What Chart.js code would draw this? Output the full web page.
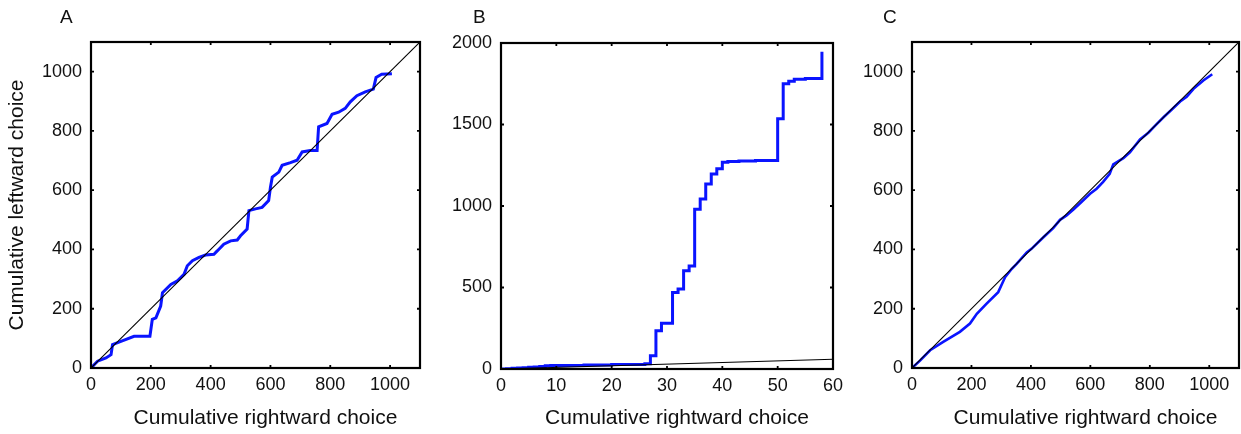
<!DOCTYPE html>
<html><head><meta charset="utf-8">
<script src="https://cdn.jsdelivr.net/npm/chart.js@4.4.1/dist/chart.umd.min.js"></script>
<style>
html,body{margin:0;padding:0;background:#fff;}
body{width:1241px;height:434px;position:relative;overflow:hidden;font-family:'Liberation Sans',Arial,Helvetica,sans-serif;}
.panel{position:absolute;top:0;height:434px;}
.lbl{position:absolute;top:7px;font-size:19px;line-height:19px;color:#111;}
</style></head><body>
<div class="panel" style="left:0;width:426px"><canvas id="cA"></canvas></div>
<div class="panel" style="left:425px;width:427px"><canvas id="cB"></canvas></div>
<div class="panel" style="left:840px;width:401px"><canvas id="cC"></canvas></div>
<div class="lbl" style="left:60px">A</div>
<div class="lbl" style="left:473px">B</div>
<div class="lbl" style="left:883px">C</div>
<script>
// ---- Panel A data ----
const aX = [0,22,50,67,72,100,144,189,197,205,217,233,239,267,289,311,322,339,361,383,411,422,444,467,489,500,522,528,550,572,594,600,606,628,639,667,689,706,733,756,761,789,806,828,850,867,889,917,944,953,972,1006];
const aY = [0,23,34,45,79,90,107,107,107,164,169,209,254,282,294,316,345,362,373,381,384,395,418,429,432,446,469,531,537,542,565,610,644,661,684,693,701,729,734,734,814,825,856,863,876,898,919,932,941,980,991,993];
// ---- Panel B data (stepped: value after each jump) ----
const bX = [0,1,2,3,4,5,6,7,8,9,15,20,26,27,28,29,31,32,33,34,35,36,37,38,39,40,41,43,46,50,50,51,52,53,55,58,58];
const bY = [0,2,4,6,8,10,12,15,20,22,24,27,32,82,235,280,470,491,603,632,980,1043,1135,1196,1229,1268,1273,1276,1279,1282,1536,1750,1765,1777,1782,1787,1947];
// ---- Panel C data ----
const cX = [0,27,61,105,161,195,218,251,290,313,335,352,386,402,442,475,498,520,543,570,599,621,643,665,677,711,733,767,795,818,846,874,902,924,947,980,1010];
const cY = [0,25,60,88,122,150,183,217,256,306,334,351,390,402,441,472,500,515,535,560,588,605,628,655,687,708,728,771,794,818,846,872,899,915,942,970,991];
// ---- Reference (identity) lines ----
const diagA = [0,1100];
const diagB = [0,60];
// ---- Tick labels ----
const tickA = [0,200,400,600,800,1000];
const tickBx = [0,10,20,30,40,50,60];
const tickBy = [0,500,1000,1500,2000];
const xTitle = 'Cumulative rightward choice';
const yTitle = 'Cumulative leftward choice';

const FONT = "'Liberation Sans', Arial, Helvetica, sans-serif";
Chart.defaults.font.family = FONT;
Chart.defaults.color = '#111';

const frame = {
  id: 'frame',
  afterDatasetsDraw(chart) {
    const {ctx, chartArea: a, scales: {x, y}} = chart;
    ctx.save();
    ctx.strokeStyle = '#000';
    ctx.lineWidth = 1.8;
    const L = 3;
    ctx.beginPath();
    x.ticks.forEach(t => {
      const p = x.getPixelForValue(t.value);
      ctx.moveTo(p, a.bottom); ctx.lineTo(p, a.bottom - L);
      ctx.moveTo(p, a.top); ctx.lineTo(p, a.top + L);
    });
    y.ticks.forEach(t => {
      const p = y.getPixelForValue(t.value);
      ctx.moveTo(a.left, p); ctx.lineTo(a.left + L, p);
      ctx.moveTo(a.right, p); ctx.lineTo(a.right - L, p);
    });
    ctx.stroke();
    ctx.lineWidth = 2.2;
    ctx.strokeRect(a.left, a.top, a.right - a.left, a.bottom - a.top);
    // x-axis title, slightly right of the plot centre as in the reference
    ctx.fillStyle = '#111';
    ctx.font = '21px ' + FONT;
    ctx.textAlign = 'center';
    ctx.textBaseline = 'middle';
    ctx.fillText(xTitle, (a.left + a.right) / 2 + 10, 418);
    ctx.restore();
  }
};

function pts(xs, ys) { return xs.map((v, i) => ({x: v, y: ys[i]})); }

function makePanel(id, o) {
  new Chart(document.getElementById(id), {
    type: 'line',
    data: {datasets: [
      {data: pts(o.diag, o.diag), borderColor: '#000', borderWidth: 1.1, pointRadius: 0, tension: 0},
      {data: pts(o.xs, o.ys), borderColor: '#0a14ff', borderWidth: o.lw || 3, pointRadius: 0, tension: 0, stepped: o.stepped || false}
    ]},
    options: {
      responsive: true, maintainAspectRatio: false, animation: false,
      events: [],
      layout: {padding: {left: 0, top: o.top, right: o.right, bottom: 0}},
      plugins: {legend: {display: false}, tooltip: {enabled: false}},
      scales: {
        x: {
          type: 'linear', min: 0, max: o.xMax,
          afterBuildTicks: s => { s.ticks = o.xTicks.map(v => ({value: v})); },
          afterFit: s => { s.height = 434 - o.bottom; },
          grid: {display: false, drawTicks: false},
          border: {display: false},
          ticks: {padding: 6, font: {size: 18}, color: '#111', maxRotation: 0, autoSkip: false, callback: v => String(v)},
          title: {display: false}
        },
        y: {
          type: 'linear', min: 0, max: o.yMax,
          afterBuildTicks: s => { s.ticks = o.yTicks.map(v => ({value: v})); },
          afterFit: s => { s.width = o.yW; },
          grid: {display: false, drawTicks: false},
          border: {display: false},
          ticks: {padding: 9, font: {size: 18}, color: '#111', autoSkip: false, callback: v => String(v)},
          title: {display: !!o.yTitle, text: o.yTitle || '', font: {size: 21}, color: '#111', padding: {top: 5, bottom: 0}}
        }
      }
    },
    plugins: [frame]
  });
}

makePanel('cA', {xs: aX, ys: aY, diag: diagA, xMax: 1100, yMax: 1100, xTicks: tickA, yTicks: tickA,
  yW: 91, top: 42, right: 6, bottom: 368, yTitle: yTitle});
makePanel('cB', {xs: bX, ys: bY, diag: diagB, xMax: 60, yMax: 2000, xTicks: tickBx, yTicks: tickBy,
  yW: 76, top: 43, right: 19, bottom: 369, stepped: 'before'});
makePanel('cC', {xs: cX, ys: cY, diag: diagA, xMax: 1100, yMax: 1100, xTicks: tickA, yTicks: tickA,
  yW: 72, top: 42, right: 2, bottom: 368, lw: 2.6});
</script>
</body></html>
